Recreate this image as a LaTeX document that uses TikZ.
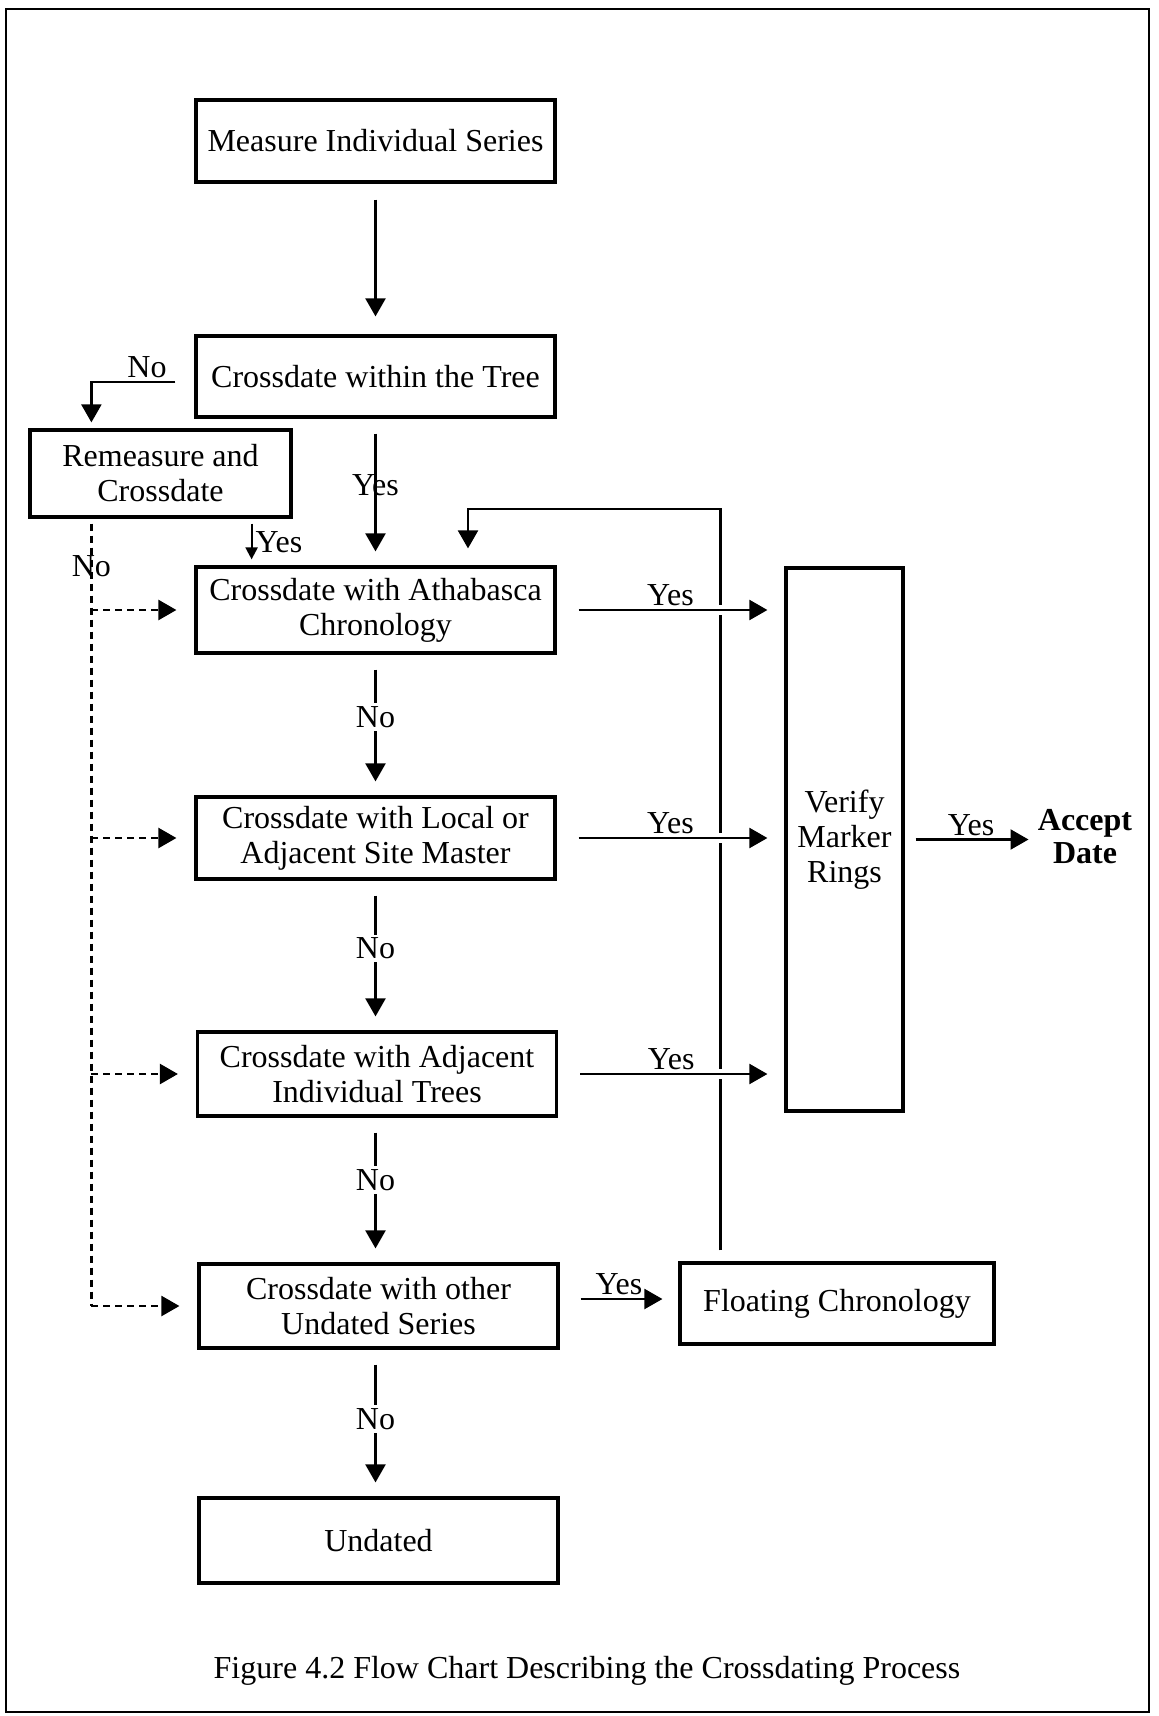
\documentclass[tikz,border=0pt]{standalone}
\usepackage{fontspec}
\setmainfont{Liberation Serif}
\usetikzlibrary{arrows.meta}

\begin{document}
\begin{tikzpicture}[x=0.5pt,y=0.5pt]
	\tikzstyle{every node}+=[inner sep=0pt, font=\fontsize{16}{17.5}\selectfont]
	\tikzstyle{box}=[draw, line width=1.6pt, align=center, minimum width=179.5pt]
	\tikzstyle{flowarr}=[line width=1.1pt, shorten <=7.5pt, shorten >=7pt, -{Triangle[length=9pt,width=10pt]}]
	\tikzstyle{dasharr}=[flowarr, line width=1.2pt, dash pattern=on 3.5pt off 2.5pt, shorten <=0pt, shorten >=9pt]
	\tikzstyle{lbl}=[inner sep=1.5pt]
	\useasboundingbox (0,0) rectangle (1159,-1716);
	\draw [line width=1.1pt] (6,-9) rectangle (1149,-1712);
	% boxes
	\node [box, minimum height=41pt] (measure) at (375.5,-141) {Measure Individual Series};
	\node [box, minimum height=40.5pt] (tree) at (375.5,-376.5) {Crossdate within the Tree};
	\node [box, minimum width=130.5pt, minimum height=43.5pt] (remeasure) at (160.5,-473.5) {Remeasure and\\Crossdate};
	\node [box, minimum height=43pt] (atha) at (375.5,-610) {Crossdate with Athabasca\\Chronology};
	\node [box, minimum height=41pt] (local) at (375.5,-838) {Crossdate with Local or\\Adjacent Site Master};
	\node [box, minimum height=42pt] (adjt) at (377,-1074) {Crossdate with Adjacent\\Individual Trees};
	\node [box, minimum height=42pt] (other) at (378.5,-1306) {Crossdate with other\\Undated Series};
	\node [box, minimum height=42.5pt] (undated) at (378.5,-1540.5) {Undated};
	\node [box, minimum width=157pt, minimum height=40.5pt] (floating) at (837,-1303.5) {Floating Chronology};
	\node [box, minimum width=58.5pt, minimum height=271.5pt] (verify) at (844.5,-839.5) {Verify\\Marker\\Rings};
	\node [font=\fontsize{16}{16.5}\selectfont\bfseries, align=center] (accept) at (1085,-837) {Accept\\Date};
	\node (caption) at (587,-1671) {Figure 4.2 Flow Chart Describing the Crossdating Process};
	% floating chronology back to athabasca
	\coordinate (fbstart) at ([xshift=21pt]floating.north west);
	\coordinate (fbtop) at (721,-509);
	\draw [flowarr, shorten <=5.5pt, shorten >=8.5pt] (fbstart) -- (fbstart |- fbtop) -| ([xshift=46.25pt]atha.north);
	% main column
	\draw [flowarr, shorten <=8pt, shorten >=9pt] (measure) -- (tree);
	\draw [flowarr] (tree) -- (atha) node [midway, yshift=3.5pt] {Yes};
	\draw [flowarr] (atha) -- (local) node [lbl, midway, yshift=4pt, fill=white] {No};
	\draw [flowarr] (local.south) -- (local.south |- adjt.north) node [lbl, midway, yshift=3.5pt, fill=white] {No};
	\draw [flowarr] (local.south |- adjt.south) -- (local.south |- other.north) node [lbl, pos=0.43, fill=white] {No};
	\draw [flowarr] (local.south |- other.south) -- (local.south |- undated.north) node [lbl, midway, yshift=2pt, fill=white] {No};
	% remeasure branch
	\draw [flowarr, shorten <=9.5pt, shorten >=3pt] ([yshift=-2.75pt]tree.west) -| ([xshift=31.5pt]remeasure.north west) node [lbl, pos=0.23, above] {No};
	\draw [flowarr, shorten <=2.5pt, shorten >=3pt, -{Triangle[length=6pt,width=6pt]}] ([xshift=-20.5pt]remeasure.south east) -- ([xshift=-20.5pt]remeasure.south east |- atha.north) node [lbl, midway, right] {Yes};
	\coordinate (nobase) at ([xshift=31.5pt]remeasure.south west);
	\draw [line width=1.2pt, dash pattern=on 3.5pt off 2.5pt, shorten <=2.5pt] (nobase) -- (nobase |- other.west) node [pos=0.061] {No};
	\foreach \b in {atha, local, adjt, other}
		\draw [dasharr] (nobase |- \b.west) -- (\b.west);
	% yes to verify
	\foreach \b in {atha, local, adjt}
		\draw [flowarr, shorten <=11pt, shorten >=8.5pt, preaction={draw=white, line width=5pt, -}] (\b.east) -- (\b.east -| verify.west) node [lbl, midway, above] {Yes};
	\draw [flowarr, shorten <=10.5pt, shorten >=8pt] ([yshift=3.5pt]other.east) -- ([yshift=3.5pt]other.east -| floating.west) node [lbl, midway, above] {Yes};
	\draw [flowarr, shorten <=5.5pt, shorten >=4.5pt] (verify) -- (verify -| accept.west) node [lbl, midway, above] {Yes};
\end{tikzpicture}
\end{document}
